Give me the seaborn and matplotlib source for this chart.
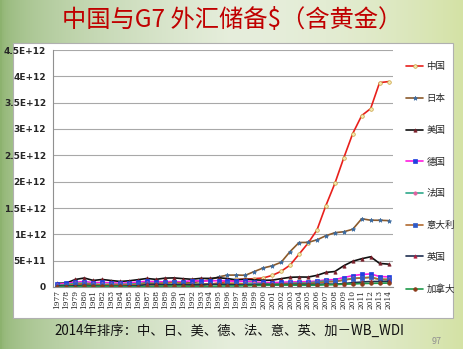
import numpy as np
import pandas as pd
import matplotlib
matplotlib.use("Agg")
import matplotlib.pyplot as plt
from matplotlib.patches import Rectangle
import seaborn as sns

years = list(range(1977, 2015))
china = [3.2, 4.5, 6.5, 10.1, 12.0, 14.0, 17.0, 21.0, 12.7, 11.5, 16.3, 18.5, 18.0, 29.6, 43.7, 20.6, 22.4, 52.9, 75.4, 107.7, 143.4, 149.8, 158.3, 171.8, 220.1, 297.7, 416.2, 622.9, 831.4, 1080.8, 1546.4, 1966.0, 2452.9, 2913.7, 3254.7, 3387.5, 3880.4, 3900.0]
japan = [25.0, 37.0, 27.0, 38.9, 37.8, 30.0, 33.0, 33.0, 36.6, 51.7, 92.7, 106.7, 93.7, 87.8, 80.6, 79.7, 107.0, 135.1, 192.6, 225.6, 226.7, 222.4, 293.9, 361.6, 401.9, 469.7, 673.5, 844.7, 846.9, 895.3, 973.4, 1030.8, 1049.4, 1096.1, 1295.8, 1268.1, 1266.9, 1260.5]
usa = [70, 76, 143, 171, 124, 143, 123, 105, 118, 139, 162, 145, 168, 173, 159, 147, 164, 163, 176, 160, 135, 146, 136, 128, 130, 158, 184, 190, 188, 221, 277, 294, 404, 489, 537, 574, 448, 434]
germany = [50, 70, 90, 104, 83, 86, 80, 72, 78, 93, 110, 97, 99, 104, 96, 123, 113, 114, 121, 118, 106, 110, 93, 87, 82, 89, 97, 97, 101, 112, 136, 139, 180, 216, 238, 248, 199, 193]
france = [30, 45, 70, 75, 55, 48, 52, 48, 55, 62, 70, 64, 70, 86, 70, 56, 55, 58, 58, 56, 52, 71, 68, 64, 59, 61, 71, 77, 74, 98, 115, 103, 132, 166, 172, 184, 145, 144]
italy = [20, 30, 50, 62, 45, 40, 45, 42, 40, 50, 60, 65, 72, 88, 72, 46, 55, 58, 60, 70, 74, 53, 45, 47, 46, 56, 63, 62, 66, 76, 94, 105, 132, 158, 173, 182, 146, 142]
uk = [21, 17, 23, 31, 24, 17, 18, 16, 17, 23, 48, 51, 42, 43, 45, 42, 43, 49, 49, 46, 40, 37, 41, 49, 43, 45, 47, 49, 49, 47, 57, 53, 66, 82, 94, 105, 104, 108]
canada = [5, 7, 5, 15, 12, 11, 12, 10, 3, 6, 8, 16, 17, 19, 18, 12, 12, 12, 16, 21, 18, 24, 28, 32, 34, 37, 36, 34, 33, 35, 41, 44, 54, 57, 66, 69, 72, 75]
countries = ["中国", "日本", "美国", "德国", "法国", "意大利", "英国", "加拿大"]
yticks = [0, 5e11, 1e12, 1.5e12, 2e12, 2.5e12, 3e12, 3.5e12, 4e12, 4.5e12]
ytick_labels = ["0", "5E+11", "1E+12", "1.5E+12", "2E+12", "2.5E+12", "3E+12", "3.5E+12", "4E+12", "4.5E+12"]
title = "中国与G7 外汇储备$（含黄金）"
footer = "2014年排序：中、日、美、德、法、意、英、加－WB_WDI"
page_no = "97"

series = [china, japan, usa, germany, france, italy, uk, canada]
rows = []
for name, vals in zip(countries, series):
    for i, (yr, v) in enumerate(zip(years, vals)):
        rows.append({"idx": i, "year": yr, "country": name, "value": v * 1e9})
df = pd.DataFrame(rows)

styles = {
    "中国": dict(color="#E8201C", marker="o", mfc="#F4E9B0", mec="#C8A040", ms=2.6),
    "日本": dict(color="#8B5A2B", marker="*", mfc="#3A6AA0", mec="#3A6AA0", ms=3.2),
    "美国": dict(color="#101010", marker="^", mfc="#7A1F2A", mec="#7A1F2A", ms=2.4),
    "德国": dict(color="#FF1CE0", marker="s", mfc="#2040E0", mec="#2040E0", ms=2.6),
    "法国": dict(color="#2EA88A", marker="o", mfc="#E060A0", mec="#E060A0", ms=2.4),
    "意大利": dict(color="#B06A30", marker="s", mfc="#2E5AC8", mec="#2E5AC8", ms=2.4),
    "英国": dict(color="#1F2F50", marker="^", mfc="#B02040", mec="#B02040", ms=2.4),
    "加拿大": dict(color="#1E9A4A", marker="o", mfc="#8B3A1A", mec="#8B3A1A", ms=2.6),
}

sns.set_theme(style="white")
plt.rcParams["font.family"] = ["Noto Sans CJK SC", "DejaVu Sans"]

fig = plt.figure(figsize=(4.64, 3.49), dpi=100)

# background gradient
bg = fig.add_axes([0, 0, 1, 1], zorder=-10)
w, h = 232, 175
xg = np.linspace(0, 1, w)[None, :]
yg = np.linspace(0, 1, h)[:, None]
left_c = np.array([140, 178, 110]) / 255
mid_c = np.array([230, 238, 220]) / 255
right_c = np.array([212, 226, 165]) / 255
t = xg * np.ones_like(yg)
img = np.zeros((h, w, 3))
for k in range(3):
    a = np.where(t < 0.5, left_c[k] + (mid_c[k] - left_c[k]) * (t / 0.5) ** 0.5,
                 mid_c[k] + (right_c[k] - mid_c[k]) * ((t - 0.5) / 0.5) ** 2)
    img[:, :, k] = a
bg.imshow(img, aspect="auto", extent=[0, 1, 0, 1])
bg.set_axis_off()

fig.patches.append(Rectangle((13 / 464, 1 - 318 / 349), 440 / 464, 275 / 349,
                             transform=fig.transFigure, facecolor="white",
                             edgecolor="#B0B0B0", linewidth=0.8, zorder=-5))

ax = fig.add_axes([53 / 464, 1 - 287 / 349, 340 / 464, 237 / 349])
ax.set_facecolor("none")
for name in countries:
    st = styles[name]
    sub = df[df["country"] == name]
    sns.lineplot(data=sub, x="idx", y="value", ax=ax, color=st["color"], lw=1.2,
                 marker=st["marker"], markersize=st["ms"], markerfacecolor=st["mfc"],
                 markeredgecolor=st["mec"], markeredgewidth=0.5, label=name)

ax.set_xlim(-0.5, len(years) - 0.5)
ax.set_ylim(0, 4.5e12)
ax.set_yticks(yticks)
ax.set_yticklabels(ytick_labels, fontsize=6.5, fontweight="bold", family="DejaVu Sans")
ax.set_xticks(range(len(years)))
ax.set_xticklabels([str(y) for y in years], rotation=90, fontsize=5.4, family="DejaVu Serif")
ax.set_xlabel("")
ax.set_ylabel("")
ax.grid(axis="y", color="#A8A8A8", lw=0.8)
ax.set_axisbelow(True)
for s in ["top", "right"]:
    ax.spines[s].set_visible(False)
ax.spines["left"].set_color("#909090")
ax.spines["bottom"].set_color("#909090")
ax.spines["left"].set_linewidth(0.8)
ax.spines["bottom"].set_linewidth(0.8)
ax.tick_params(axis="y", length=3, width=0.6, color="#909090", pad=2)
ax.tick_params(axis="x", length=0, pad=2)

leg = ax.legend(loc="upper left", bbox_to_anchor=(398 / 464, 1 - 54 / 349),
                bbox_transform=fig.transFigure, frameon=False, fontsize=6.8,
                handlelength=1.8, handletextpad=0.3, labelspacing=2.4)

fig.text(0.5, 1 - 20 / 349, title, ha="center", va="center", fontsize=17.5,
         color="#C00000")
fig.text(0.494, 1 - 331 / 349, footer, ha="center", va="center", fontsize=9.6,
         color="#111111")
fig.text(437 / 464, 1 - 341 / 349, page_no, ha="center", va="center", fontsize=6.5,
         color="#909090")

fig.savefig("out.png", dpi=100)
